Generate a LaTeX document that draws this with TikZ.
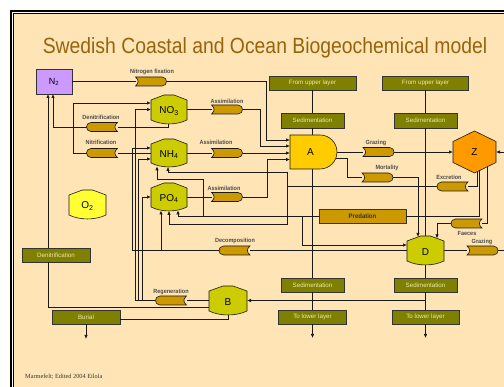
\documentclass[tikz,border=0pt]{standalone}
\usepackage{fontspec}
\setmainfont{Liberation Sans}
\newfontfamily\creditfont{Liberation Serif}
\newfontfamily\labfont[FakeStretch=0.92]{Liberation Sans}
\usetikzlibrary{arrows.meta,calc}
\definecolor{cream}{RGB}{255,228,181}
\definecolor{titlec}{RGB}{150,100,12}
\definecolor{capc}{RGB}{204,153,0}
\definecolor{olivec}{RGB}{128,128,0}
\definecolor{olivetxt}{RGB}{235,235,175}
\definecolor{nutc}{RGB}{204,204,0}
\definecolor{oxyc}{RGB}{255,255,51}
\definecolor{algc}{RGB}{255,204,0}
\definecolor{zooc}{RGB}{255,153,0}
\definecolor{n2c}{RGB}{204,153,255}
\definecolor{linec}{RGB}{25,25,25}

\newcommand\capRshape[1]{%
 \filldraw[capsty] (#1.north west) -- ($(#1.north east)+(-4.5,0)$) .. controls ($(#1.north east)+(1.5,0)$) and ($(#1.south east)+(1.5,0)$) .. ($(#1.south east)+(-4.5,0)$) -- (#1.south west) .. controls ($(#1.south west)+(3.5,-3)$) and ($(#1.north west)+(3.5,3)$) .. (#1.north west) -- cycle;}
\newcommand\capLshape[1]{%
 \filldraw[capsty] (#1.north east) -- ($(#1.north west)+(4.5,0)$) .. controls ($(#1.north west)+(-1.5,0)$) and ($(#1.south west)+(-1.5,0)$) .. ($(#1.south west)+(4.5,0)$) -- (#1.south east) .. controls ($(#1.south east)+(-3.5,-3)$) and ($(#1.north east)+(-3.5,3)$) .. (#1.north east) -- cycle;}
\newcommand\houseshape[2]{%
 \filldraw[draw=linec, line width=0.6pt, fill=#2] ($(#1.north west)+(0,5)$) -- ($(#1.north)+(-5,0)$) -- ($(#1.north)+(5,0)$) -- ($(#1.north east)+(0,5)$) -- ($(#1.south east)+(0,-4)$) .. controls ($(#1.south east)+(-11,1.3)$) and ($(#1.south west)+(11,1.3)$) .. ($(#1.south west)+(0,-4)$) -- cycle;}

\begin{document}
\begin{tikzpicture}[x=1pt,y=-1pt,
  anchorbox/.style={inner sep=0, outer sep=0, draw=none},
  capn/.style={anchorbox, minimum width=31pt, minimum height=9pt},
  capsty/.style={fill=capc, draw=linec, line width=0.6pt},
  conn/.style={draw=linec, line width=0.7pt},
  arr/.style={conn, -{Latex[length=4pt,width=3.4pt]}},
  olive/.style={fill=olivec, draw=black!80, line width=0.8pt, text=olivetxt, font=\fontsize{6.2}{6.2}\selectfont, inner sep=0, outer sep=0},
  lab/.style={font=\labfont\bfseries\fontsize{6}{6}\selectfont, text=black!70, inner sep=0},
  big/.style={font=\fontsize{10}{10}\selectfont, text=black, inner sep=0}]
\useasboundingbox (0,0) rectangle (504,387);
\clip (0,0) rectangle (504,387);
\fill[white] (0,0) rectangle (504,387);
\draw[line width=2pt] (11,11) rectangle (530,400);
\filldraw[fill=cream, draw=black, line width=0.9pt] (13.6,13.6) rectangle (527,397);

% title
\node[anchor=base, text=titlec, inner sep=0] (title) at (265,54) {\scalebox{0.88}[1]{\fontsize{22}{22}\selectfont Swedish Coastal and Ocean Biogeochemical model}};

% boxes
\node[olive, minimum width=87pt, minimum height=14pt] (fu1) at (312.5,83) {From upper layer};
\node[olive, minimum width=63pt, minimum height=15pt] (sed1) at (312.5,120.5) {Sedimentation};
\node[olive, minimum width=86pt, minimum height=14pt] (fu2) at (425.5,83) {From upper layer};
\node[olive, minimum width=63pt, minimum height=15pt] (sed2) at (425.5,120.5) {Sedimentation};
\node[olive, minimum width=63pt, minimum height=14pt] (sed3) at (312.5,285) {Sedimentation};
\node[olive, minimum width=68pt, minimum height=14pt] (tl1) at (312.5,317) {To lower layer};
\node[olive, minimum width=63pt, minimum height=14pt] (sed4) at (425.5,285) {Sedimentation};
\node[olive, minimum width=67pt, minimum height=14pt] (tl2) at (425.5,317) {To lower layer};
\node[olive, minimum width=68pt, minimum height=14pt] (denbox) at (56,255) {Denitrification};
\node[olive, minimum width=68pt, minimum height=14pt] (burial) at (86,317) {Burial};
\node[olive, fill=capc, text=black!80, font=\labfont\bfseries\fontsize{6.5}{6.5}\selectfont, minimum width=87pt, minimum height=14pt] (pred) at (362.5,216) {Predation};
\node[fill=n2c, draw=black!80, line width=0.8pt, minimum width=36pt, minimum height=25pt, inner sep=0, outer sep=0, font=\fontsize{9}{9}\selectfont] (N2) at (54,81.5) {N\textsubscript{2}};

% anchor nodes for custom shapes
\node[anchorbox, minimum width=36pt, minimum height=29pt] (NO3) at (169,109.5) {};
\node[anchorbox, minimum width=36pt, minimum height=28pt] (NH4) at (169,153) {};
\node[anchorbox, minimum width=36pt, minimum height=28pt] (PO4) at (169,197) {};
\node[anchorbox, minimum width=37pt, minimum height=29pt] (O2) at (87.5,204.5) {};
\node[anchorbox, minimum width=38pt, minimum height=29pt] (B) at (228,300.5) {};
\node[anchorbox, minimum width=37pt, minimum height=29pt] (D) at (425.5,250.5) {};
\node[anchorbox, minimum width=47pt, minimum height=34pt] (A) at (313.5,152) {};
\node[anchorbox, minimum width=43pt, minimum height=42pt] (Z) at (474.5,152) {};

\node[capn] (nfix) at (151,81.5) {};
\node[capn] (as1) at (227,109.5) {};
\node[capn] (den) at (102,127) {};
\node[capn] (nit) at (102,153) {};
\node[capn] (as2) at (227,153) {};
\node[capn] (as3) at (227,197) {};
\node[capn] (graz1) at (378.5,152) {};
\node[capn] (mort) at (377.5,177.5) {};
\node[capn] (excr) at (452.5,186.5) {};
\node[capn] (faec) at (466.5,223.5) {};
\node[capn] (graz2) at (482.5,250.5) {};
\node[capn] (decomp) at (234.5,250.5) {};
\node[capn] (regen) at (171,300.5) {};

\coordinate (Amort) at (335.8,158);
\coordinate (Dt1) at (418,237);
\coordinate (Dt2) at (437,238.4);
\coordinate (zb1) at (477,171.8);
\coordinate (zb2) at (479,170.8);
\coordinate (zb3) at (487,166.9);
\coordinate (NH4b1) at (157,166.3);
\coordinate (NH4b2) at (168,166.8);
\coordinate (PO4b1) at (161,210.5);
\coordinate (PO4b2) at (169,210.8);
\coordinate (PO4b3) at (178,210.3);
\coordinate (NO3b) at (168,123.8);
\coordinate (Bl) at (209,307);

% connectors
\draw[conn] (N2.east) -- (nfix.west);
\draw[arr] (nfix.east) -| (266,140) -- ($(A.west)+(0,-12)$);
\draw[conn] (NO3.east) -- (as1.west);
\draw[arr] (as1.east) -| (260,146) -- ($(A.west)+(0,-6)$);
\draw[conn] (NH4.east) -- (as2.west);
\draw[arr] (as2.east) -- ($(A.west)+(0,1)$);
\draw[conn] (PO4.east) -- (as3.west);
\draw[arr] (as3.east) -| (267,159.5) -- ($(A.west)+(0,7.5)$);
\draw[conn] (A.east) -- (graz1.west);
\draw[arr] (graz1.east) -- (Z.west);
\draw[conn] (Amort) -| (347,177.5) -- (mort.west);
\draw[arr] (mort.east) -| (Dt1);
\draw[conn] (zb1) |- (excr.east);
\draw[conn] (excr.west) -- (287,186.5);
\draw[arr] (287,186.5) -- (287,172) -| (NH4b2);
\draw[arr] (287,186.5) -- (287,224) -| (PO4b2);
\draw[conn] (zb2) |- (pred.east);
\draw[arr] (pred.west) -| (PO4b3);
\draw[arr] (203,216) -- (203,179) -| (NH4b1);
\draw[arr] (302,216) |- ($(D.west)+(0,-5.5)$);
\draw[conn] (zb3) |- (faec.east);
\draw[arr] (faec.west) -| (Dt2);
\draw[conn] (D.west) -- (decomp.east);
\draw[arr] (decomp.west) -| (132,148) -- ($(NH4.west)+(0,-5)$);
\draw[arr] (161,250.5) -- (PO4b1);
\draw[conn] (D.east) -- (graz2.west);
\draw[arr] (graz2.east) -- (512,250.5) |- (Z.east);
\draw[conn] (B.west) -- (regen.east);
\draw[arr] (regen.west) -| (135,109.5) -- (NO3.west);
\draw[arr] (138,300.5) |- ($(NH4.west)+(0,6)$);
\draw[arr] (142,300.5) |- (PO4.west);
\draw[conn] (NH4.west) -- (nit.east);
\draw[arr] (nit.west) -| (73,103) -- ($(NO3.west)+(0,-6.5)$);
\draw[conn] (NO3b) |- (den.east);
\draw[arr] (den.west) -| ($(N2.south)+(-1,0)$);
\draw[conn] (Bl) -| ($(denbox.south)+(-8,0)$);
\draw[arr] ($(denbox.north)+(-8,0)$) -- ($(N2.south)+(-6,0)$);
\draw[conn] (B.south) |- ($(burial.east)+(0,2)$);
\draw[arr] (burial.south) -- ++(0,15);
\draw[conn] (fu1.south) -- (sed1.north);
\draw[conn] (sed1.south) -- (sed1.south |- A.north);
\draw[conn] (A.south -| sed3.north) -- (sed3.north);
\draw[conn] (sed3.south) -- (tl1.north);
\draw[arr] (tl1.south) -- ++(0,14);
\draw[conn] (fu2.south) -- (sed2.north);
\draw[conn] (sed2.south) -- (D.north);
\draw[conn] (D.south) -- (sed4.north);
\draw[conn] (sed4.south) -- (tl2.north);
\draw[arr] (tl2.south) -- ++(0,14);
\draw[arr] (425.5,300.5) -- (B.east);

% shapes on top
\houseshape{NO3}{nutc}
\houseshape{NH4}{nutc}
\houseshape{PO4}{nutc}
\houseshape{O2}{oxyc}
\houseshape{B}{nutc}
\houseshape{D}{nutc}
\node[big] at ($(NO3.center)+(0,1.5)$) {NO\textsubscript{3}};
\node[big] at ($(NH4.center)+(0,1.5)$) {NH\textsubscript{4}};
\node[big] at ($(PO4.center)+(0,1.5)$) {PO\textsubscript{4}};
\node[big] at ($(O2.center)+(0,1.5)$) {O\textsubscript{2}};
\node[big] at ($(B.center)+(0,1.5)$) {B};
\node[big] at ($(D.center)+(0,1.5)$) {D};

\filldraw[fill=algc, draw=linec, line width=0.6pt] (A.north west) -- ($(A.north east)+(-17,0)$) .. controls ($(A.north east)+(-7.6,0)$) and ($(A.east)+(0,-9.4)$) .. (A.east) .. controls ($(A.east)+(0,9.4)$) and ($(A.south east)+(-7.6,0)$) .. ($(A.south east)+(-17,0)$) -- (A.south west) -- cycle;
\node[big] at ($(A.center)+(-3,0)$) {A};
\filldraw[fill=zooc, draw=linec, line width=0.6pt] (Z.north) -- ($(Z.north east)+(0,10.5)$) -- ($(Z.south east)+(0,-10.5)$) -- (Z.south) -- ($(Z.south west)+(0,-10.5)$) -- ($(Z.north west)+(0,10.5)$) -- cycle;
\node[big] at (Z.center) {Z};

\capRshape{nfix}
\capRshape{as1}
\capLshape{den}
\capLshape{nit}
\capRshape{as2}
\capRshape{as3}
\capRshape{graz1}
\capRshape{mort}
\capLshape{excr}
\capLshape{faec}
\capRshape{graz2}
\capLshape{decomp}
\capLshape{regen}

% labels
\node[lab] at (152,72) {Nitrogen fixation};
\node[lab] at (227,101) {Assimilation};
\node[lab] at (101,117) {Denitrification};
\node[lab] at (101,142.5) {Nitrification};
\node[lab] at (216,142.5) {Assimilation};
\node[lab] at (224,188) {Assimilation};
\node[lab] at (376,143) {Grazing};
\node[lab] at (387,168) {Mortality};
\node[lab] at (449,177) {Excretion};
\node[lab] at (467,233) {Faeces};
\node[lab] at (482,242) {Grazing};
\node[lab] at (235,241) {Decomposition};
\node[lab] at (171,292) {Regeneration};

\node[anchor=base west, inner sep=0, text=black!80, font=\creditfont\fontsize{6.3}{6.3}\selectfont] (credit) at (25,379) {Marmefelt; Edited 2004 Eilola};
\end{tikzpicture}
\end{document}
